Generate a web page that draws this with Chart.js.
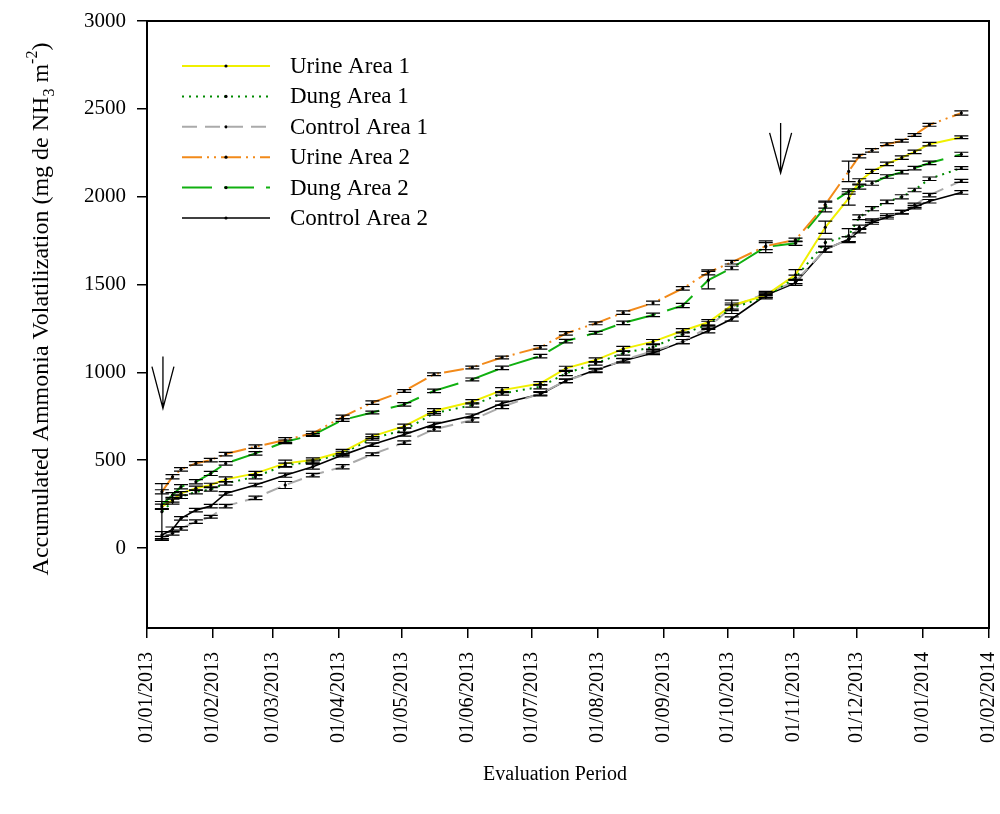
<!DOCTYPE html>
<html>
<head>
<meta charset="utf-8">
<script src="https://cdn.jsdelivr.net/npm/chart.js@4.4.1/dist/chart.umd.min.js"></script>
<style>
  html, body { margin: 0; padding: 0; background: #fff; }
  #wrap { width: 1000px; height: 814px; }
</style>
</head>
<body>
<div id="wrap"><canvas id="ammoniaChart" width="1000" height="814"></canvas></div>
<script>
// sampling days, counted from 01/01/2013
const sampleDays = [7, 12, 16, 23, 30, 37, 51, 65, 78, 92, 106, 121, 135, 153, 167, 185, 197,
  211, 224, 238, 252, 264, 275, 291, 305, 319, 330, 335, 341, 348, 355, 361, 368, 383];

const urine1 = [235, 273, 311, 340, 359, 391, 425, 482, 501, 548, 636, 694, 780, 833, 899, 937, 1023,
  1070, 1134, 1175, 1237, 1285, 1381, 1439, 1555, 1826, 1990, 2087, 2144, 2187, 2222, 2255, 2299, 2338];
const dung1 = [207, 264, 292, 320, 334, 368, 406, 472, 491, 539, 624, 672, 767, 814, 880, 918, 994,
  1051, 1110, 1144, 1217, 1275, 1365, 1430, 1540, 1739, 1778, 1883, 1932, 1970, 1999, 2038, 2102, 2163];
const control1 = [55, 84, 112, 150, 178, 239, 286, 359, 415, 463, 534, 600, 676, 729, 804, 880, 952,
  1009, 1070, 1121, 1175, 1256, 1372, 1449, 1517, 1700, 1758, 1826, 1864, 1893, 1912, 1951, 2009, 2090];
const urine2 = [320, 406, 448, 482, 501, 535, 577, 615, 653, 747, 828, 894, 989, 1028, 1085, 1142, 1222,
  1279, 1340, 1395, 1478, 1569, 1627, 1719, 1754, 1955, 2144, 2231, 2264, 2299, 2318, 2351, 2409, 2476];
const dung2 = [245, 302, 349, 377, 425, 482, 539, 605, 643, 729, 772, 818, 895, 960, 1026, 1093, 1178,
  1225, 1282, 1327, 1381, 1525, 1594, 1715, 1735, 1941, 2030, 2055, 2077, 2115, 2140, 2163, 2192, 2241];
const control2 = [74, 106, 169, 216, 239, 311, 359, 415, 463, 529, 589, 647, 704, 753, 824, 876, 952,
  1013, 1066, 1111, 1175, 1237, 1304, 1439, 1510, 1700, 1758, 1806, 1855, 1883, 1912, 1941, 1974, 2024];

// standard errors
const urine1Err = [15, 12, 10, 12, 10, 14, 12, 18, 12, 14, 12, 12, 14, 12, 14, 10, 12,
  12, 14, 12, 12, 16, 30, 14, 30, 35, 38, 15, 12, 10, 10, 10, 10, 8];
const dung1Err = [160, 14, 10, 12, 10, 10, 12, 12, 10, 12, 10, 12, 10, 12, 10, 12, 12,
  10, 12, 14, 12, 16, 30, 12, 14, 20, 40, 14, 12, 10, 12, 10, 10, 8];
const control1Err = [12, 10, 10, 10, 8, 10, 10, 20, 10, 12, 8, 10, 10, 12, 10, 10, 10,
  10, 10, 12, 12, 12, 12, 12, 12, 15, 14, 12, 10, 10, 10, 12, 10, 8];
const urine2Err = [12, 12, 10, 10, 10, 10, 10, 14, 12, 10, 10, 8, 8, 8, 8, 10, 10,
  8, 10, 10, 10, 14, 10, 20, 10, 20, 58, 10, 10, 8, 8, 8, 8, 12];
const dung2Err = [20, 14, 12, 12, 12, 10, 10, 10, 8, 8, 8, 10, 10, 8, 10, 10, 10,
  8, 10, 10, 12, 50, 10, 33, 12, 28, 15, 12, 12, 10, 10, 10, 10, 12];
const control2Err = [20, 14, 10, 10, 10, 10, 10, 12, 14, 10, 10, 10, 12, 10, 12, 10, 10,
  10, 12, 10, 12, 12, 12, 12, 15, 15, 14, 12, 12, 10, 10, 10, 10, 10];

const monthLabels = ["01/01/2013", "01/02/2013", "01/03/2013", "01/04/2013", "01/05/2013",
  "01/06/2013", "01/07/2013", "01/08/2013", "01/09/2013", "01/10/2013", "01/11/2013",
  "01/12/2013", "01/01/2014", "01/02/2014"];
const yTickValues = [0, 500, 1000, 1500, 2000, 2500, 3000];

// application arrows (day, from value, to value)
const arrowDays = [7.5, 298];
const arrowFrom = [1090, 2420];
const arrowTo = [795, 2135];

const dayZero = Date.UTC(2013, 0, 1);
const monthDays = monthLabels.map((s) => {
  const [d, m, y] = s.split("/").map(Number);
  return (Date.UTC(y, m - 1, d) - dayZero) / 86400000;
});

const serif = "Liberation Serif, Times New Roman, serif";

function series(label, values, errors, color, dash, width) {
  return {
    label: label,
    data: sampleDays.map((d, i) => ({ x: d, y: values[i] })),
    errors: errors,
    borderColor: color,
    borderDash: dash,
    borderWidth: width,
    tension: 0,
    fill: false,
    pointRadius: 1.6,
    pointBackgroundColor: "#000",
    pointBorderWidth: 0,
  };
}

const errorBars = {
  id: "errorBars",
  afterDatasetsDraw(chart) {
    const ctx = chart.ctx;
    const yScale = chart.scales.y;
    ctx.save();
    ctx.strokeStyle = "#000";
    ctx.lineWidth = 1.2;
    chart.data.datasets.forEach((ds, i) => {
      const meta = chart.getDatasetMeta(i);
      meta.data.forEach((pt, j) => {
        const v = ds.data[j].y;
        const e = ds.errors[j];
        const top = yScale.getPixelForValue(v + e);
        const bot = yScale.getPixelForValue(v - e);
        ctx.beginPath();
        ctx.moveTo(pt.x, top);
        ctx.lineTo(pt.x, bot);
        ctx.moveTo(pt.x - 7, top);
        ctx.lineTo(pt.x + 7, top);
        ctx.moveTo(pt.x - 7, bot);
        ctx.lineTo(pt.x + 7, bot);
        ctx.stroke();
      });
    });
    ctx.restore();
  },
};

const decorations = {
  id: "decorations",
  afterDraw(chart) {
    const ctx = chart.ctx;
    const area = chart.chartArea;
    const xs = chart.scales.x;
    const ys = chart.scales.y;
    ctx.save();

    // frame
    ctx.strokeStyle = "#000";
    ctx.lineWidth = 2;
    ctx.strokeRect(area.left, area.top, area.right - area.left, area.bottom - area.top);

    // arrows
    ctx.lineWidth = 1.3;
    arrowDays.forEach((d, i) => {
      const x = xs.getPixelForValue(d);
      const y0 = ys.getPixelForValue(arrowFrom[i]);
      const y1 = ys.getPixelForValue(arrowTo[i]);
      ctx.beginPath();
      ctx.moveTo(x, y0);
      ctx.lineTo(x, y1);
      ctx.moveTo(x - 11, y0 + 10);
      ctx.lineTo(x, y1);
      ctx.lineTo(x + 11, y0 + 10);
      ctx.stroke();
    });

    // legend
    ctx.font = "23px " + serif;
    ctx.textBaseline = "middle";
    ctx.fillStyle = "#000";
    chart.data.datasets.forEach((ds, i) => {
      const y = 66 + i * 30.4;
      ctx.save();
      ctx.strokeStyle = ds.borderColor;
      ctx.lineWidth = ds.borderWidth;
      ctx.setLineDash(ds.borderDash);
      ctx.beginPath();
      ctx.moveTo(182, y);
      ctx.lineTo(270, y);
      ctx.stroke();
      ctx.restore();
      ctx.beginPath();
      ctx.arc(226, y, 1.6, 0, Math.PI * 2);
      ctx.fill();
      ctx.fillText(ds.label, 290, y + 1);
    });

    // x title
    ctx.font = "20px " + serif;
    ctx.textAlign = "center";
    ctx.textBaseline = "middle";
    ctx.fillText("Evaluation Period", 555, 775);

    // y title with subscript and superscript
    const parts = [
      { t: "Accumulated Ammonia Volatilization (mg de NH", size: 24, dy: 0 },
      { t: "3", size: 16, dy: 6 },
      { t: " m", size: 24, dy: 0 },
      { t: "-2", size: 16, dy: -11 },
      { t: ")", size: 24, dy: 0 },
    ];
    let total = 0;
    parts.forEach((p) => {
      ctx.font = p.size + "px " + serif;
      p.w = ctx.measureText(p.t).width;
      total += p.w;
    });
    ctx.translate(48, 309);
    ctx.rotate(-Math.PI / 2);
    ctx.textAlign = "left";
    ctx.textBaseline = "alphabetic";
    let px = -total / 2;
    parts.forEach((p) => {
      ctx.font = p.size + "px " + serif;
      ctx.fillText(p.t, px, p.dy);
      px += p.w;
    });
    ctx.restore();
  },
};

new Chart(document.getElementById("ammoniaChart"), {
  type: "line",
  data: {
    datasets: [
      series("Urine Area 1", urine1, urine1Err, "#f0f000", [], 2),
      series("Dung Area 1", dung1, dung1Err, "#008a00", [2, 5], 2),
      series("Control Area 1", control1, control1Err, "#aaaaaa", [15, 8], 2),
      series("Urine Area 2", urine2, urine2Err, "#f28a1a", [20, 5, 2, 5, 2, 5], 2),
      series("Dung Area 2", dung2, dung2Err, "#10b010", [30, 12], 2),
      series("Control Area 2", control2, control2Err, "#000000", [], 1.6),
    ],
  },
  options: {
    responsive: false,
    animation: false,
    layout: { padding: { top: 21, right: 11, left: 0, bottom: 0 } },
    plugins: { legend: { display: false }, tooltip: { enabled: false } },
    scales: {
      x: {
        type: "linear",
        min: 0,
        max: 396,
        afterBuildTicks: (s) => { s.ticks = monthDays.map((v) => ({ value: v })); },
        afterFit: (s) => {
          s.height = 186;
          s.paddingLeft = 0;
          s.paddingRight = 0;
        },
        grid: { drawOnChartArea: false, color: "#000", tickLength: 10, lineWidth: 1.5 },
        border: { color: "#000", width: 2 },
        ticks: {
          autoSkip: false,
          maxRotation: 90,
          minRotation: 90,
          padding: 14,
          color: "#000",
          font: { family: serif, size: 20 },
          callback: (v, i) => monthLabels[i],
        },
      },
      y: {
        min: -455,
        max: 3000,
        afterBuildTicks: (s) => { s.ticks = yTickValues.map((v) => ({ value: v })); },
        afterFit: (s) => {
          s.width = 147;
          s.paddingTop = 0;
          s.paddingBottom = 0;
        },
        grid: { drawOnChartArea: false, color: "#000", tickLength: 10, lineWidth: 1.5 },
        border: { color: "#000", width: 2 },
        ticks: {
          padding: 11,
          color: "#000",
          font: { family: serif, size: 21 },
          callback: (v) => String(v),
        },
      },
    },
  },
  plugins: [errorBars, decorations],
});
</script>
</body>
</html>
